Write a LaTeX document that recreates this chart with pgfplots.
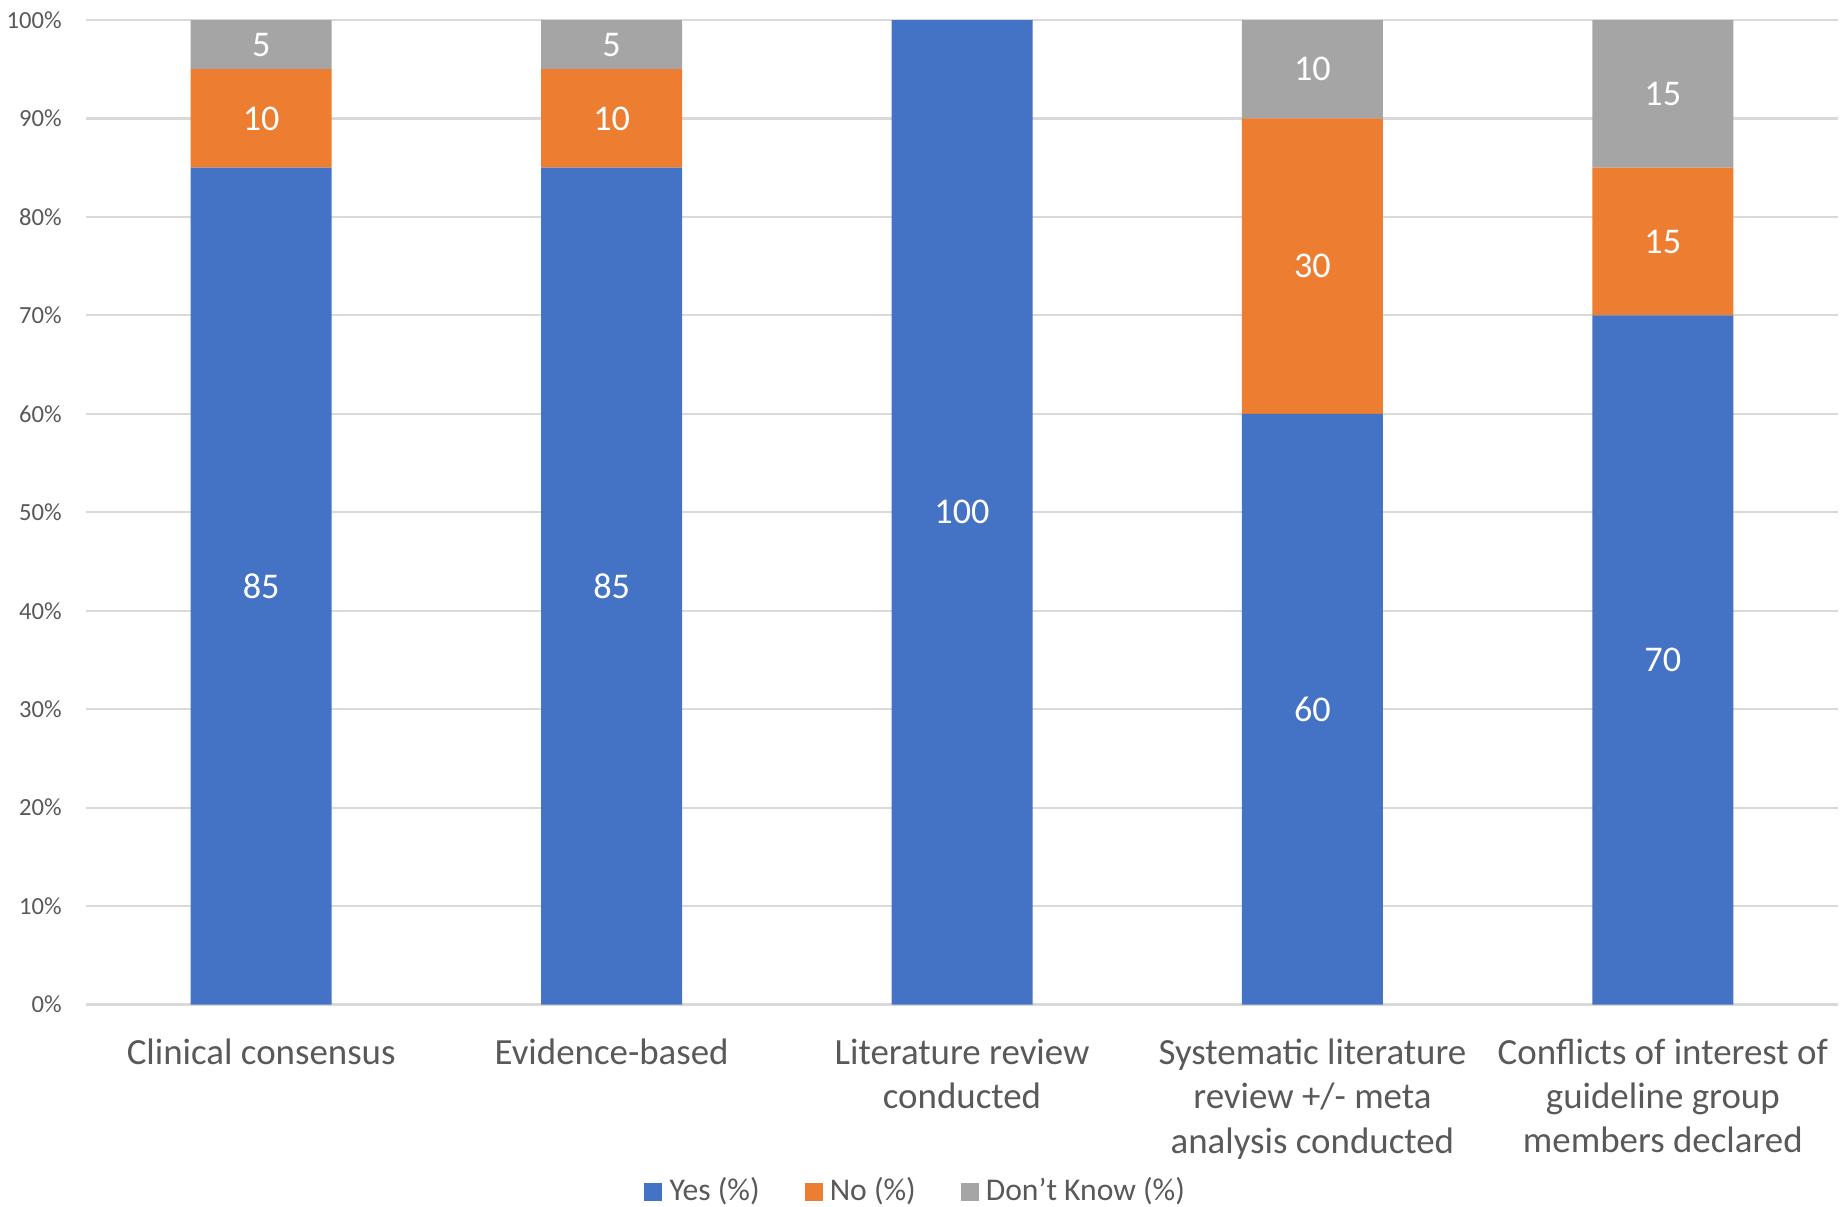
\documentclass[border=0pt]{standalone}
\usepackage{fontspec}
\setmainfont{Carlito}
\usepackage{pgfplots}
\usepackage{pgfplotstable}
\pgfplotsset{compat=1.18}

\definecolor{ybl}{HTML}{4472C4}
\definecolor{nor}{HTML}{ED7D31}
\definecolor{dkg}{HTML}{A5A5A5}
\definecolor{gridc}{HTML}{D9D9D9}
\definecolor{labc}{HTML}{595959}

\pgfplotstableread{
idx yes no dk
0 85 10 5
1 85 10 5
2 100 0 0
3 60 30 10
4 70 15 15
}\guidedata

\begin{document}
\begin{tikzpicture}
\path[use as bounding box] (-0.86cm,-2.015cm) rectangle (17.54cm,10.045cm);
\begin{axis}[
    at={(0,0)}, anchor=south west,
    scale only axis,
    width=17.52cm, height=9.845cm,
    ybar stacked,
    bar width=1.41cm,
    xmin=-0.5, xmax=4.5,
    ymin=0, ymax=100,
    xtick=data,
    xticklabels={Clinical consensus,Evidence-based,Literature review\\conducted,Systematic literature\\review +/- meta\\analysis conducted,Conflicts of interest of\\guideline group\\members declared},
    ytick={0,10,...,100},
    yticklabels={0\%,10\%,20\%,30\%,40\%,50\%,60\%,70\%,80\%,90\%,100\%},
    axis line style={draw=none},
    tick style={draw=none},
    ymajorgrids,
    grid style={gridc, line width=0.6pt},
    xticklabel style={font=\fontsize{10.5}{12.6}\selectfont, align=center, text=labc, yshift=-0.22cm},
    yticklabel style={font=\fontsize{7}{8}\selectfont, text=labc, xshift=-0.12cm},
    nodes near coords={\ifdim\rawy pt>0.5pt \pgfmathprintnumber[assume math mode=true]{\rawy}\fi},
    every node near coord/.append style={font=\fontsize{10.3}{12}\selectfont, text=white, anchor=center},
    legend style={at={(0.475,-0.19)}, anchor=center, draw=none, legend columns=-1,
        font=\fontsize{9}{10}\selectfont, text=labc,
        /tikz/every even column/.append style={column sep=0.38cm}},
    legend image code/.code={\fill[#1] (0cm,-0.09cm) rectangle (0.18cm,0.09cm);},
]
\addplot[fill=ybl, draw=none, visualization depends on={\thisrow{yes} \as \rawy}] table[x=idx, y=yes] {\guidedata};
\addplot[fill=nor, draw=none, visualization depends on={\thisrow{no} \as \rawy}] table[x=idx, y=no] {\guidedata};
\addplot[fill=dkg, draw=none, visualization depends on={\thisrow{dk} \as \rawy}] table[x=idx, y=dk] {\guidedata};
\legend{Yes (\%),No (\%),Don’t Know (\%)}
\end{axis}
\end{tikzpicture}
\end{document}
